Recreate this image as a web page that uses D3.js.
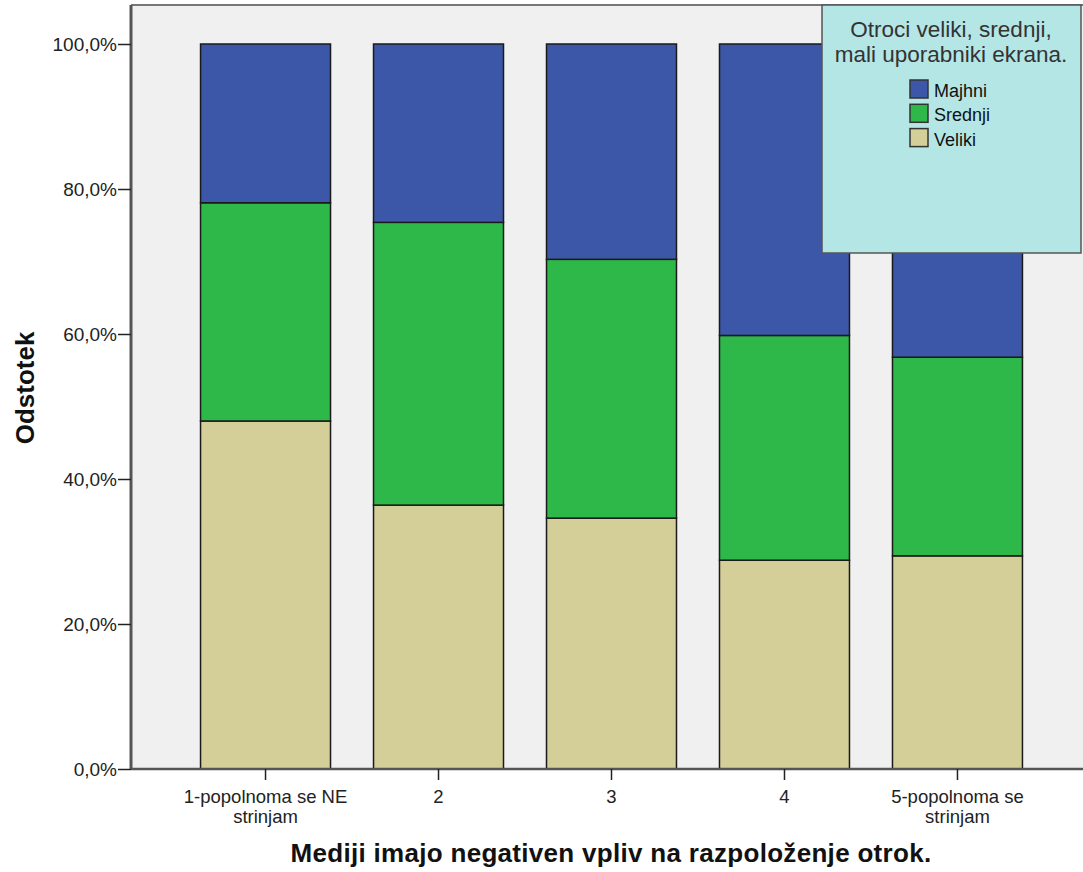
<!DOCTYPE html>
<html><head><meta charset="utf-8">
<script src="https://cdn.jsdelivr.net/npm/d3@7"></script>
<style>body{margin:0;background:#fff} text{font-family:"Liberation Sans",Arial,sans-serif}</style>
</head><body><svg id="c" width="1083" height="872"></svg>
<script>
const categories = ["1-popolnoma se NE strinjam","2","3","4","5-popolnoma se strinjam"];
const categoryLines = [["1-popolnoma se NE","strinjam"],["2"],["3"],["4"],["5-popolnoma se","strinjam"]];
const seriesNames = ["Veliki","Srednji","Majhni"];
const veliki = [48.0,36.4,34.6,28.8,29.4];
const srednji = [30.1,39.0,35.7,31.0,27.4];
const majhni = [21.9,24.6,29.7,40.2,43.2];
const yTicks = [0,20,40,60,80,100];
const legendOrder = ["Majhni","Srednji","Veliki"];
const legendTitle = ["Otroci veliki, srednji,","mali uporabniki ekrana."];
const xTitle = "Mediji imajo negativen vpliv na razpoloženje otrok.";
const yTitle = "Odstotek";
const colors = {Majhni:"#3d57a8", Srednji:"#2fb84a", Veliki:"#d4ce98"};

const rows = categories.map((c,i)=>({cat:c, Veliki:veliki[i], Srednji:srednji[i], Majhni:majhni[i]}));
const svg = d3.select("#c");
const L=131, R=1092, T=5, B=769;
const x = d3.scaleBand().domain(categories).range([L,R]).paddingInner(0.2486).paddingOuter(0.402);
const y = d3.scaleLinear().domain([0,100]).range([B,44]);

svg.append("rect").attr("x",L).attr("y",T).attr("width",R-L).attr("height",B-T).attr("fill","#f0f0f0");
svg.append("line").attr("x1",L).attr("x2",R).attr("y1",T).attr("y2",T).attr("stroke","#777").attr("stroke-width",2);

const stacked = d3.stack().keys(seriesNames)(rows);
svg.append("g").selectAll("g").data(stacked).join("g").attr("fill",d=>colors[d.key])
  .selectAll("rect").data(d=>d).join("rect")
  .attr("x",d=>x(d.data.cat)).attr("width",x.bandwidth())
  .attr("y",d=>y(d[1])).attr("height",d=>y(d[0])-y(d[1]))
  .attr("stroke","#1a1a1a").attr("stroke-width",1.5);

const yAxis = svg.append("g").attr("transform",`translate(${L},0)`)
  .call(d3.axisLeft(y).tickValues(yTicks).tickSize(13).tickSizeOuter(0).tickPadding(1)
  .tickFormat(d=>d.toFixed(1).replace(".",",")+"%"));
yAxis.select(".domain").attr("d",`M0,${T}V${B}`).attr("stroke","#555").attr("stroke-width",3);
yAxis.selectAll(".tick line").attr("stroke","#222").attr("stroke-width",1.5);
yAxis.selectAll(".tick text").attr("font-size",19).attr("fill","#222").attr("font-family","Liberation Sans, Arial");

const xAxis = svg.append("g").attr("transform",`translate(0,${B})`)
  .call(d3.axisBottom(x).tickSize(11).tickSizeOuter(0).tickFormat(""));
xAxis.select(".domain").attr("d",`M${L},0H${R}`).attr("stroke","#555").attr("stroke-width",2.5);
xAxis.selectAll(".tick line").attr("stroke","#222").attr("stroke-width",1.5);
xAxis.selectAll(".tick").each(function(d,i){
  const t = d3.select(this).append("text").attr("fill","#222").attr("font-size",18.5)
    .attr("text-anchor","middle").attr("font-family","Liberation Sans, Arial");
  categoryLines[i].forEach((ln,j)=>t.append("tspan").attr("x",0).attr("y",34+j*19.5).text(ln));
});

svg.append("text").attr("x",611).attr("y",862).attr("text-anchor","middle")
  .attr("font-size",26).attr("letter-spacing",0.3).attr("font-weight","bold").attr("fill","#111").text(xTitle);
svg.append("text").attr("transform","translate(34,388) rotate(-90)").attr("text-anchor","middle")
  .attr("font-size",26).attr("font-weight","bold").attr("fill","#111").text(yTitle);

const lg = svg.append("g");
lg.append("rect").attr("x",822).attr("y",5).attr("width",259).attr("height",248)
  .attr("fill","#b4e6e6").attr("stroke","#555").attr("stroke-width",1.5);
legendTitle.forEach((t,i)=>lg.append("text").attr("x",951).attr("y",37+i*24.5).attr("text-anchor","middle")
  .attr("font-size",22.5).attr("fill","#333").text(t));
legendOrder.forEach((k,i)=>{
  lg.append("rect").attr("x",910).attr("y",80+i*24.3).attr("width",18).attr("height",18)
    .attr("fill",colors[k]).attr("stroke","#333").attr("stroke-width",1.5);
  lg.append("text").attr("x",934).attr("y",97+i*24.3).attr("font-size",18).attr("fill","#111").text(k);
});
</script></body></html>
